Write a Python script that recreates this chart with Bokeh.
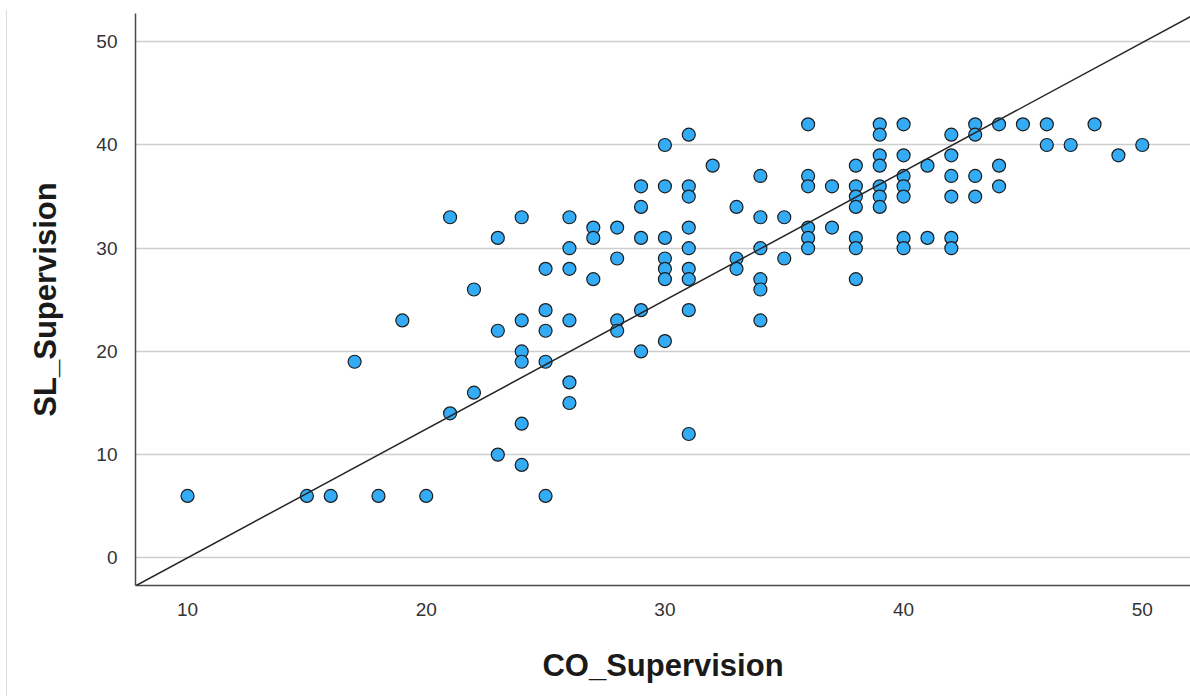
from bokeh.plotting import figure
from bokeh.models import FixedTicker, Slope, Range1d, ColumnDataSource, Div
from bokeh.layouts import row
from bokeh.embed import file_html
from bokeh.resources import INLINE

# ---- data ----
co_supervision = [10, 15, 16, 17, 18, 19, 20,
                  21, 21, 22, 22, 23, 23, 23,
                  24, 24, 24, 24, 24, 24,
                  25, 25, 25, 25, 25,
                  26, 26, 26, 26, 26, 26,
                  27, 27, 27,
                  28, 28, 28, 28,
                  29, 29, 29, 29, 29,
                  30, 30, 30, 30, 30, 30, 30,
                  31, 31, 31, 31, 31, 31, 31, 31, 31,
                  32,
                  33, 33, 33,
                  34, 34, 34, 34, 34, 34,
                  35, 35,
                  36, 36, 36, 36, 36, 36,
                  37, 37,
                  38, 38, 38, 38, 38, 38, 38,
                  39, 39, 39, 39, 39, 39, 39,
                  40, 40, 40, 40, 40, 40, 40,
                  41, 41,
                  42, 42, 42, 42, 42, 42,
                  43, 43, 43, 43,
                  44, 44, 44,
                  45, 46, 46, 47, 48, 49, 50]
sl_supervision = [6, 6, 6, 19, 6, 23, 6,
                  33, 14, 26, 16, 31, 22, 10,
                  33, 23, 20, 19, 13, 9,
                  28, 24, 22, 19, 6,
                  33, 30, 28, 23, 17, 15,
                  32, 31, 27,
                  32, 29, 23, 22,
                  36, 34, 31, 24, 20,
                  40, 36, 31, 29, 28, 27, 21,
                  41, 36, 35, 32, 30, 28, 27, 24, 12,
                  38,
                  34, 29, 28,
                  37, 33, 30, 27, 26, 23,
                  33, 29,
                  42, 37, 36, 32, 31, 30,
                  36, 32,
                  38, 36, 35, 34, 31, 30, 27,
                  42, 41, 39, 38, 36, 35, 34,
                  42, 39, 37, 36, 35, 31, 30,
                  38, 31,
                  41, 39, 37, 35, 31, 30,
                  42, 41, 37, 35,
                  42, 38, 36,
                  42, 42, 40, 40, 42, 39, 40]

# fitted line as drawn in the reference (intercept, slope)
fit_intercept = -12.48
fit_slope = 1.248

x_ticks = [10, 20, 30, 40, 50]
y_ticks = [0, 10, 20, 30, 40, 50]
x_title = "CO_Supervision"
y_title = "SL_Supervision"

source = ColumnDataSource(dict(x=co_supervision, y=sl_supervision))

p = figure(width=1183, height=696,
           x_range=Range1d(7.82, 52.02), y_range=Range1d(-2.68, 52.74),
           output_backend="svg", toolbar_location=None,
           min_border_left=128, min_border_right=0,
           min_border_top=13, min_border_bottom=111)

p.outline_line_color = None
p.background_fill_color = "white"
p.border_fill_color = "white"

p.xgrid.visible = False
p.ygrid.grid_line_color = "#cdcdcd"
p.ygrid.grid_line_width = 1.5
p.ygrid.ticker = FixedTicker(ticks=y_ticks)

for ax in (p.xaxis[0], p.yaxis[0]):
    ax.major_tick_line_color = None
    ax.minor_tick_line_color = None
    ax.axis_line_color = "#4a4a4a"
    ax.axis_line_width = 1.5
    ax.major_label_text_font = "Liberation Sans"
    ax.major_label_text_font_size = "19px"
    ax.major_label_text_color = "#333333"
    ax.axis_label_text_font = "Liberation Sans"
    ax.axis_label_text_font_style = "bold"
    ax.axis_label_text_font_size = "31px"
    ax.axis_label_text_color = "#1a1a1a"

p.xaxis.ticker = FixedTicker(ticks=x_ticks)
p.yaxis.ticker = FixedTicker(ticks=y_ticks)
p.xaxis.major_label_standoff = 11
p.yaxis.major_label_standoff = 12
p.xaxis.axis_label = x_title
p.yaxis.axis_label = y_title
p.xaxis.axis_label_standoff = 29
p.yaxis.axis_label_standoff = 30

p.add_layout(Slope(gradient=fit_slope, y_intercept=fit_intercept,
                   line_color="#262626", line_width=1.5))

p.scatter("x", "y", source=source, marker="circle", size=13,
          fill_color="#33abf5", line_color="#1c1c1c", line_width=1.2)

edge = Div(text="", width=1, height=686, margin=(10, 0, 0, 6),
           styles={"background-color": "#dcdcdc"})

layout = row(edge, p, spacing=0)

open("out.html", "w").write(file_html(layout, INLINE))
